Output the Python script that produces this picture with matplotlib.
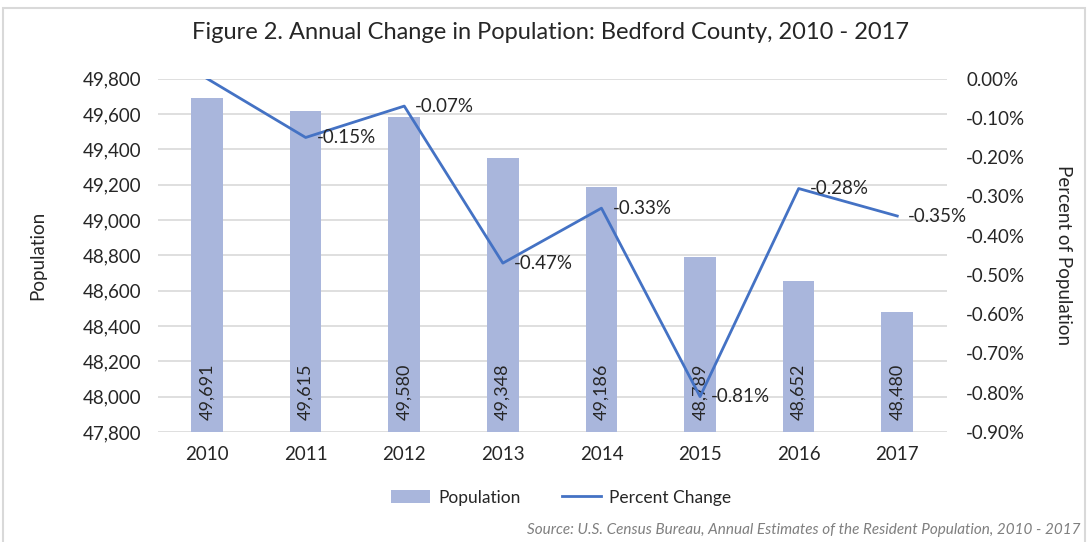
import matplotlib.pyplot as plt
from matplotlib.patches import Rectangle
from matplotlib.ticker import FuncFormatter, MultipleLocator

plt.rcParams['font.family'] = ['Lato', 'DejaVu Sans']

years = ['2010', '2011', '2012', '2013', '2014', '2015', '2016', '2017']
population = [49691, 49615, 49580, 49348, 49186, 48789, 48652, 48480]
pct_change = [0.00, -0.15, -0.07, -0.47, -0.33, -0.81, -0.28, -0.35]

bar_color = '#A9B6DC'
line_color = '#4472C4'
text_color = '#262626'
grid_color = '#D9D9D9'

fig = plt.figure(figsize=(10.88, 5.42), dpi=100)
ax = fig.add_axes([0.145, 0.203, 0.725, 0.652])
ax2 = ax.twinx()

x = list(range(len(years)))
bars = ax.bar(x, population, width=0.32, color=bar_color, zorder=2, label='Population')
ax.set_ylim(47800, 49800)
ax.set_xlim(-0.5, len(years) - 0.5)
ax.yaxis.set_major_locator(MultipleLocator(200))
ax.yaxis.set_major_formatter(FuncFormatter(lambda v, p: f'{v:,.0f}'))
ax.grid(axis='y', color=grid_color, linewidth=1.2, zorder=0)
ax.set_axisbelow(True)
ax.set_xticks(x)
ax.set_xticklabels(years)
ax.tick_params(length=0, labelsize=13.5, colors=text_color, pad=10)
ax.tick_params(axis='y', pad=12)
ax.set_ylabel('Population', fontsize=13.5, color=text_color, labelpad=26)

for xi, v in zip(x, population):
    ax.text(xi, 47870, f'{v:,}', rotation=90, ha='center', va='bottom',
            fontsize=13, color=text_color, zorder=4)

line, = ax2.plot(x, pct_change, color=line_color, linewidth=2, zorder=3, label='Percent Change')
ax2.set_ylim(-0.90, 0.0)
ax2.yaxis.set_major_locator(MultipleLocator(0.10))
ax2.yaxis.set_major_formatter(FuncFormatter(lambda v, p: f'{v:.2f}%' if abs(v) > 1e-9 else '0.00%'))
ax2.tick_params(length=0, labelsize=13.5, colors=text_color, pad=14)
ax2.set_ylabel('Percent of Population', fontsize=13.5, color=text_color, rotation=-90, labelpad=34)

for xi, v in zip(x[1:], pct_change[1:]):
    ax2.annotate(f'{v:.2f}%', (xi, v), xytext=(8, 0), textcoords='offset points',
                 ha='left', va='center', fontsize=13.5, color=text_color, zorder=5)

for a in (ax, ax2):
    for s in a.spines.values():
        s.set_visible(False)

fig.legend([bars, line], ['Population', 'Percent Change'], loc='center',
           bbox_to_anchor=(0.516, 0.082), ncol=2, frameon=False, fontsize=12.5,
           handlelength=2.2, handletextpad=0.5, columnspacing=2.4, labelcolor=text_color)

fig.suptitle('Figure 2. Annual Change in Population: Bedford County, 2010 - 2017',
             x=0.506, y=0.96, fontsize=17, color=text_color)

fig.text(0.993, 0.01, 'Source: U.S. Census Bureau, Annual Estimates of the Resident Population, 2010 - 2017',
         ha='right', va='bottom', fontsize=11, style='italic', color='#7F7F7F')

fig.patches.append(Rectangle((0.003, -0.01), 0.994, 0.995, transform=fig.transFigure,
                             fill=False, edgecolor='#D9D9D9', linewidth=1.5))

fig.savefig('out.png', dpi=100)
